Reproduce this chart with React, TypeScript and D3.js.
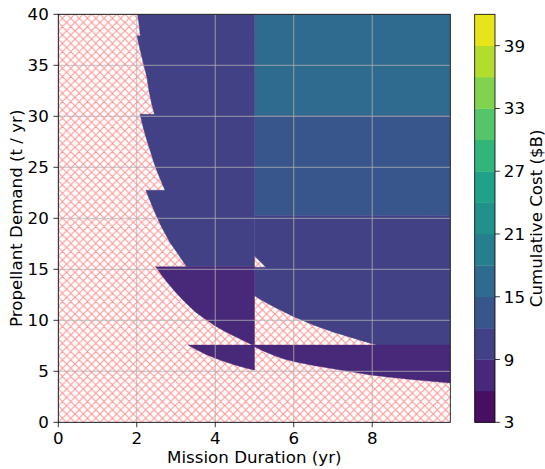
import React from "react";
import * as d3 from "d3";

// ---- data ----
const durationTicks = [0, 2, 4, 6, 8];
const demandTicks = [0, 5, 10, 15, 20, 25, 30, 35, 40];
const costTicks = [3, 9, 15, 21, 27, 33, 39];
const costLevels = [3, 6, 9, 12, 15, 18, 21, 24, 27, 30, 33, 36, 39, 42];

// feasible regions: [duration (yr), demand (t/yr)] boundary points
const shortUpper: [number, number][] = [
  [2.02, 40], [5.0, 40], [5.0, 15.25], [3.27, 15.25], [3.05, 16.5], [2.85, 17.6],
  [2.65, 19.0], [2.48, 20.4], [2.35, 21.6], [2.23, 22.75], [2.72, 22.75],
  [2.58, 24.0], [2.45, 25.3], [2.36, 26.4], [2.26, 27.6], [2.17, 28.8],
  [2.08, 30.2], [2.45, 30.2], [2.38, 31.2], [2.31, 32.5], [2.25, 33.95],
  [2.16, 35.3], [2.08, 36.6], [2.0, 37.9], [2.09, 37.9], [2.06, 38.9], [2.02, 40],
];
const shortMiddle: [number, number][] = [
  [2.48, 15.25], [5.0, 15.25], [5.0, 7.6], [4.93, 7.6], [4.7, 8.05], [4.45, 8.5],
  [4.2, 9.0], [4.0, 9.45], [3.75, 10.1], [3.5, 10.8], [3.25, 11.7], [3.0, 12.7],
  [2.8, 13.6], [2.64, 14.4], [2.48, 15.25],
];
const shortLower: [number, number][] = [
  [3.31, 7.57], [5.0, 7.57], [5.0, 5.1], [4.75, 5.35], [4.5, 5.62], [4.25, 5.93],
  [4.0, 6.28], [3.75, 6.68], [3.5, 7.15], [3.31, 7.57],
];
const longTop: [number, number][] = [
  [5.0, 30.07], [9.99, 30.07], [9.99, 40], [5.0, 40],
];
const longHigh: [number, number][] = [
  [5.0, 20.25], [9.99, 20.25], [9.99, 30.07], [5.0, 30.07],
];
const longMiddle: [number, number][] = [
  [5.0, 20.25], [9.99, 20.25], [9.99, 7.57], [8.11, 7.57], [7.75, 7.98],
  [7.5, 8.27], [7.0, 8.86], [6.5, 9.54], [6.0, 10.35], [5.5, 11.3], [5.25, 11.83],
  [5.0, 12.4], [5.0, 15.2], [5.29, 15.2], [5.15, 15.75], [5.0, 16.3],
];
const longLower: [number, number][] = [
  [5.0, 7.57], [9.99, 7.57], [9.99, 3.85], [9.5, 4.02], [9.0, 4.2], [8.5, 4.4],
  [8.0, 4.62], [7.5, 4.92], [7.0, 5.25], [6.5, 5.58], [6.0, 5.95], [5.75, 6.2],
  [5.5, 6.55], [5.25, 6.95], [5.0, 7.4],
];
const regionShapes = [longTop, longHigh, longMiddle, longLower, shortUpper, shortMiddle, shortLower];
const regionCosts = [16.5, 13.5, 10.5, 7.5, 10.5, 7.5, 7.5];

// ---- layout ----
const W = 545;
const H = 469;
const left = 58.3;
const right = 450.3;
const top = 14.3;
const bottom = 422.3;
const cbLeft = 474.7;
const cbRight = 495;
const font = "'DejaVu Sans', sans-serif";
const fs = 16.67;

export default function App() {
  const x = d3.scaleLinear().domain([0, 9.99]).range([left, right]);
  const y = d3.scaleLinear().domain([0, 40]).range([bottom, top]);
  const c = d3.scaleLinear().domain([3, 42]).range([bottom, top]);
  const nBands = costLevels.length - 1;
  const bandColors = d3.range(nBands).map((i) => d3.interpolateViridis((i + 0.5) / nBands));
  const color = d3.scaleThreshold<number, string>().domain(costLevels.slice(1, -1)).range(bandColors);
  const line = d3
    .line<[number, number]>()
    .x((d) => x(d[0]))
    .y((d) => y(d[1]));
  const hs = 8.33;

  return (
    <svg width={W} height={H} style={{ position: "absolute", left: 0, top: 0, background: "#fff" }}>
      <defs>
        <pattern id="hatch" patternUnits="userSpaceOnUse" width={hs} height={hs} x={left} y={bottom}>
          <path
            d={`M0,0L${hs},${hs}M${-hs},0L0,${hs}M${hs},0L${2 * hs},${hs}M${hs},0L0,${hs}M0,0L${-hs},${hs}M${2 * hs},0L${hs},${hs}`}
            stroke="#ff0000"
            strokeOpacity={0.42}
            strokeWidth={1.1}
            fill="none"
          />
        </pattern>
        <clipPath id="plotClip">
          <rect x={left} y={top} width={right - left} height={bottom - top} />
        </clipPath>
      </defs>
      <rect x={left} y={top} width={right - left} height={bottom - top} fill="url(#hatch)" />
      <g clipPath="url(#plotClip)">
        {regionShapes.map((pts, i) => (
          <path key={i} d={line(pts) + "Z"} fill={color(regionCosts[i])} stroke={color(regionCosts[i])} strokeWidth={0.4} />
        ))}
      </g>
      {/* grid */}
      <g stroke="#b0b0b0" strokeWidth={0.8}>
        {durationTicks.map((t) => (
          <line key={"gx" + t} x1={x(t)} x2={x(t)} y1={top} y2={bottom} />
        ))}
        {demandTicks.map((t) => (
          <line key={"gy" + t} x1={left} x2={right} y1={y(t)} y2={y(t)} />
        ))}
      </g>
      {/* spines */}
      <rect x={left} y={top} width={right - left} height={bottom - top} fill="none" stroke="#000" strokeWidth={0.8} />
      {/* axes */}
      <g fontFamily={font} fontSize={fs} fill="#000">
        {durationTicks.map((t) => (
          <g key={"xt" + t}>
            <line x1={x(t)} x2={x(t)} y1={bottom} y2={bottom + 4.86} stroke="#000" strokeWidth={0.8} />
            <text x={x(t)} y={444} textAnchor="middle">
              {t}
            </text>
          </g>
        ))}
        {demandTicks.map((t) => (
          <g key={"yt" + t}>
            <line x1={left - 4.86} x2={left} y1={y(t)} y2={y(t)} stroke="#000" strokeWidth={0.8} />
            <text x={48.8} y={y(t) + 6} textAnchor="end">
              {t}
            </text>
          </g>
        ))}
        <text x={(left + right) / 2} y={462.5} textAnchor="middle">
          Mission Duration (yr)
        </text>
        <text transform={`translate(21.5,${(top + bottom) / 2}) rotate(-90)`} textAnchor="middle">
          Propellant Demand (t / yr)
        </text>
      </g>
      {/* colorbar */}
      <g>
        {d3.range(nBands).map((i) => (
          <rect
            key={"cb" + i}
            x={cbLeft}
            width={cbRight - cbLeft}
            y={c(costLevels[i + 1])}
            height={c(costLevels[i]) - c(costLevels[i + 1]) + 0.3}
            fill={bandColors[i]}
          />
        ))}
        <rect x={cbLeft} y={top} width={cbRight - cbLeft} height={bottom - top} fill="none" stroke="#000" strokeWidth={0.8} />
        <g fontFamily={font} fontSize={fs} fill="#000">
          {costTicks.map((t) => (
            <g key={"ct" + t}>
              <line x1={cbRight} x2={cbRight + 4.86} y1={c(t)} y2={c(t)} stroke="#000" strokeWidth={0.8} />
              <text x={503.8} y={c(t) + 6}>
                {t}
              </text>
            </g>
          ))}
          <text transform={`translate(541.8,${(top + bottom) / 2}) rotate(-90)`} textAnchor="middle">
            Cumulative Cost ($B)
          </text>
        </g>
      </g>
    </svg>
  );
}
